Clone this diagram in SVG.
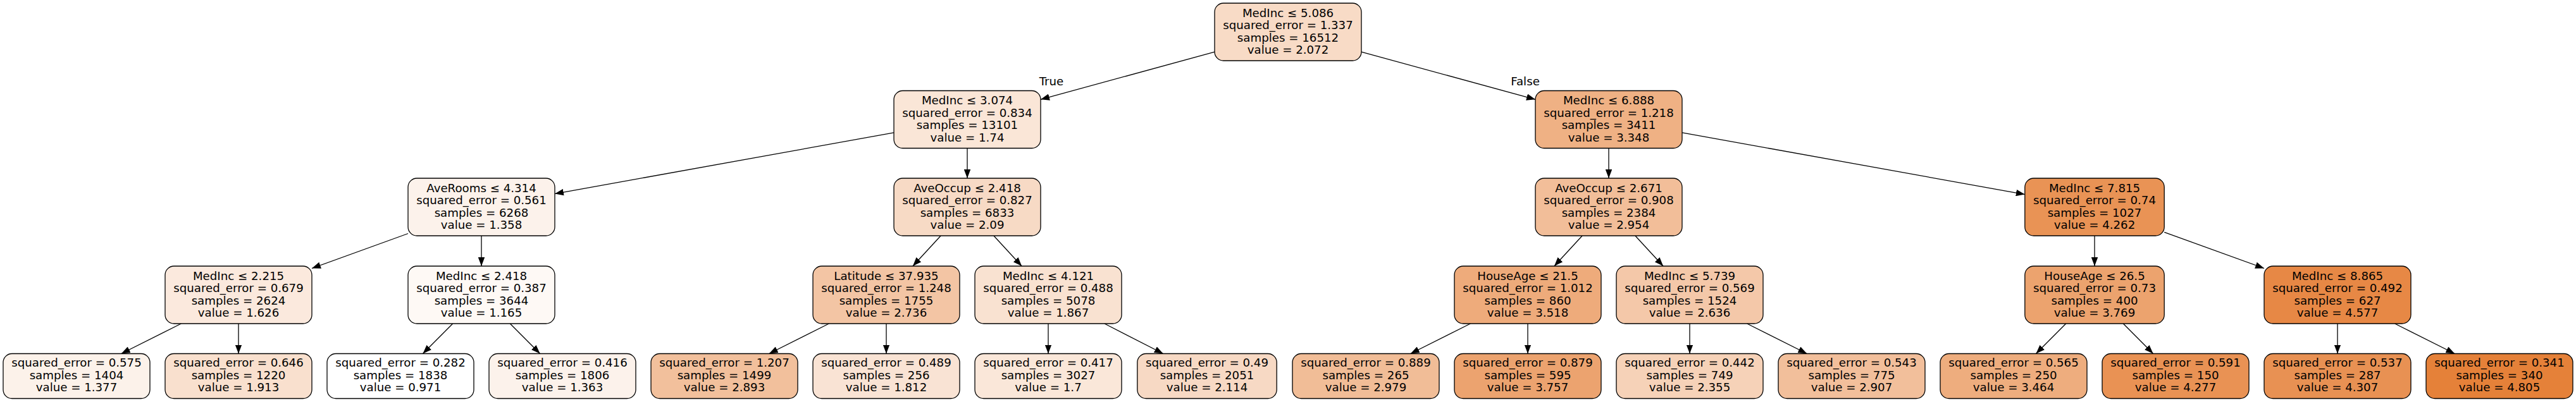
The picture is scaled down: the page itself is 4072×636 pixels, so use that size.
<svg xmlns="http://www.w3.org/2000/svg" width="4072" height="636" viewBox="0 0 4072 636">
<style>
.n rect{stroke:#000;stroke-width:1.3}
text{font-family:"DejaVu Sans","Liberation Sans",sans-serif;font-size:18.2px;fill:#000;text-anchor:middle}
.e line{stroke:#000;stroke-width:1.3;marker-end:url(#ah)}
</style>
<defs>
<marker id="ah" viewBox="0 0 14 10.6" refX="14" refY="5.3" markerWidth="14" markerHeight="10.6" markerUnits="userSpaceOnUse" orient="auto"><path d="M0,0 L14,5.3 L0,10.6 z" fill="#000"/></marker>
</defs>
<rect width="4072" height="636" fill="#fff"/>
<g id="edges" class="e">
<line x1="1920" y1="82.2" x2="1645" y2="157.3"/>
<line x1="2152" y1="82.2" x2="2427" y2="157.3"/>
<line x1="1413" y1="209.9" x2="877" y2="306.6"/>
<line x1="1529" y1="234.5" x2="1529" y2="282"/>
<line x1="2543" y1="234.5" x2="2543" y2="282"/>
<line x1="2659" y1="209.9" x2="3200.8" y2="307.6"/>
<line x1="645" y1="369.5" x2="493" y2="424.5"/>
<line x1="761" y1="373" x2="761" y2="421"/>
<line x1="1487.1" y1="373" x2="1442.9" y2="421"/>
<line x1="1570.9" y1="373" x2="1615.1" y2="421"/>
<line x1="2501.1" y1="373" x2="2456.9" y2="421"/>
<line x1="2584.9" y1="373" x2="2629.1" y2="421"/>
<line x1="3311" y1="373" x2="3311" y2="421"/>
<line x1="3421.2" y1="367.4" x2="3579" y2="424.5"/>
<line x1="286.4" y1="512" x2="191.7" y2="559.5"/>
<line x1="377" y1="512" x2="377" y2="559.5"/>
<line x1="715.7" y1="512" x2="668.4" y2="559.5"/>
<line x1="806.3" y1="512" x2="853.6" y2="559.5"/>
<line x1="1310.4" y1="512" x2="1215.7" y2="559.5"/>
<line x1="1401" y1="512" x2="1401" y2="559.5"/>
<line x1="1657" y1="512" x2="1657" y2="559.5"/>
<line x1="1745.9" y1="512" x2="1838.7" y2="559.5"/>
<line x1="2324.4" y1="512" x2="2229.7" y2="559.5"/>
<line x1="2415" y1="512" x2="2415" y2="559.5"/>
<line x1="2671" y1="512" x2="2671" y2="559.5"/>
<line x1="2761.6" y1="512" x2="2856.3" y2="559.5"/>
<line x1="3265.7" y1="512" x2="3218.4" y2="559.5"/>
<line x1="3356.3" y1="512" x2="3403.6" y2="559.5"/>
<line x1="3695" y1="512" x2="3695" y2="559.5"/>
<line x1="3785.6" y1="512" x2="3880.3" y2="559.5"/>
<text x="1662" y="135">True</text>
<text x="2411" y="135">False</text>
</g>
<g id="n0" class="n"><rect x="1920" y="5" width="232" height="91" rx="14" fill="#f8dbc6"/><text x="2036" y="26.5">MedInc ≤ 5.086</text><text x="2036" y="46.1">squared_error = 1.337</text><text x="2036" y="65.7">samples = 16512</text><text x="2036" y="85.3">value = 2.072</text></g>
<g id="n1" class="n"><rect x="1413" y="143.5" width="232" height="91" rx="14" fill="#fae6d7"/><text x="1529" y="165">MedInc ≤ 3.074</text><text x="1529" y="184.6">squared_error = 0.834</text><text x="1529" y="204.2">samples = 13101</text><text x="1529" y="223.8">value = 1.74</text></g>
<g id="n16" class="n"><rect x="2427" y="143.5" width="232" height="91" rx="14" fill="#efb184"/><text x="2543" y="165">MedInc ≤ 6.888</text><text x="2543" y="184.6">squared_error = 1.218</text><text x="2543" y="204.2">samples = 3411</text><text x="2543" y="223.8">value = 3.348</text></g>
<g id="n2" class="n"><rect x="645" y="282" width="232" height="91" rx="14" fill="#fcf2eb"/><text x="761" y="303.5">AveRooms ≤ 4.314</text><text x="761" y="323.1">squared_error = 0.561</text><text x="761" y="342.7">samples = 6268</text><text x="761" y="362.3">value = 1.358</text></g>
<g id="n9" class="n"><rect x="1413" y="282" width="232" height="91" rx="14" fill="#f7dac5"/><text x="1529" y="303.5">AveOccup ≤ 2.418</text><text x="1529" y="323.1">squared_error = 0.827</text><text x="1529" y="342.7">samples = 6833</text><text x="1529" y="362.3">value = 2.09</text></g>
<g id="n17" class="n"><rect x="2427" y="282" width="232" height="91" rx="14" fill="#f2be99"/><text x="2543" y="303.5">AveOccup ≤ 2.671</text><text x="2543" y="323.1">squared_error = 0.908</text><text x="2543" y="342.7">samples = 2384</text><text x="2543" y="362.3">value = 2.954</text></g>
<g id="n24" class="n"><rect x="3200.8" y="282" width="220.4" height="91" rx="14" fill="#e99355"/><text x="3311" y="303.5">MedInc ≤ 7.815</text><text x="3311" y="323.1">squared_error = 0.74</text><text x="3311" y="342.7">samples = 1027</text><text x="3311" y="362.3">value = 4.262</text></g>
<g id="n3" class="n"><rect x="261" y="421" width="232" height="91" rx="14" fill="#fbe9dd"/><text x="377" y="442.5">MedInc ≤ 2.215</text><text x="377" y="462.1">squared_error = 0.679</text><text x="377" y="481.7">samples = 2624</text><text x="377" y="501.3">value = 1.626</text></g>
<g id="n6" class="n"><rect x="645" y="421" width="232" height="91" rx="14" fill="#fef9f5"/><text x="761" y="442.5">MedInc ≤ 2.418</text><text x="761" y="462.1">squared_error = 0.387</text><text x="761" y="481.7">samples = 3644</text><text x="761" y="501.3">value = 1.165</text></g>
<g id="n10" class="n"><rect x="1285" y="421" width="232" height="91" rx="14" fill="#f3c5a4"/><text x="1401" y="442.5">Latitude ≤ 37.935</text><text x="1401" y="462.1">squared_error = 1.248</text><text x="1401" y="481.7">samples = 1755</text><text x="1401" y="501.3">value = 2.736</text></g>
<g id="n13" class="n"><rect x="1541" y="421" width="232" height="91" rx="14" fill="#f9e2d1"/><text x="1657" y="442.5">MedInc ≤ 4.121</text><text x="1657" y="462.1">squared_error = 0.488</text><text x="1657" y="481.7">samples = 5078</text><text x="1657" y="501.3">value = 1.867</text></g>
<g id="n18" class="n"><rect x="2299" y="421" width="232" height="91" rx="14" fill="#eeab7b"/><text x="2415" y="442.5">HouseAge ≤ 21.5</text><text x="2415" y="462.1">squared_error = 1.012</text><text x="2415" y="481.7">samples = 860</text><text x="2415" y="501.3">value = 3.518</text></g>
<g id="n21" class="n"><rect x="2555" y="421" width="232" height="91" rx="14" fill="#f4c8a9"/><text x="2671" y="442.5">MedInc ≤ 5.739</text><text x="2671" y="462.1">squared_error = 0.569</text><text x="2671" y="481.7">samples = 1524</text><text x="2671" y="501.3">value = 2.636</text></g>
<g id="n25" class="n"><rect x="3200.8" y="421" width="220.4" height="91" rx="14" fill="#eca36e"/><text x="3311" y="442.5">HouseAge ≤ 26.5</text><text x="3311" y="462.1">squared_error = 0.73</text><text x="3311" y="481.7">samples = 400</text><text x="3311" y="501.3">value = 3.769</text></g>
<g id="n28" class="n"><rect x="3579" y="421" width="232" height="91" rx="14" fill="#e78845"/><text x="3695" y="442.5">MedInc ≤ 8.865</text><text x="3695" y="462.1">squared_error = 0.492</text><text x="3695" y="481.7">samples = 627</text><text x="3695" y="501.3">value = 4.577</text></g>
<g id="n4" class="n"><rect x="5" y="559.5" width="232" height="71" rx="14" fill="#fcf2ea"/><text x="121" y="580">squared_error = 0.575</text><text x="121" y="599.6">samples = 1404</text><text x="121" y="619.2">value = 1.377</text></g>
<g id="n5" class="n"><rect x="261" y="559.5" width="232" height="71" rx="14" fill="#f9e0ce"/><text x="377" y="580">squared_error = 0.646</text><text x="377" y="599.6">samples = 1220</text><text x="377" y="619.2">value = 1.913</text></g>
<g id="n7" class="n"><rect x="517" y="559.5" width="232" height="71" rx="14" fill="#ffffff"/><text x="633" y="580">squared_error = 0.282</text><text x="633" y="599.6">samples = 1838</text><text x="633" y="619.2">value = 0.971</text></g>
<g id="n8" class="n"><rect x="773" y="559.5" width="232" height="71" rx="14" fill="#fcf2eb"/><text x="889" y="580">squared_error = 0.416</text><text x="889" y="599.6">samples = 1806</text><text x="889" y="619.2">value = 1.363</text></g>
<g id="n11" class="n"><rect x="1029" y="559.5" width="232" height="71" rx="14" fill="#f2c09c"/><text x="1145" y="580">squared_error = 1.207</text><text x="1145" y="599.6">samples = 1499</text><text x="1145" y="619.2">value = 2.893</text></g>
<g id="n12" class="n"><rect x="1285" y="559.5" width="232" height="71" rx="14" fill="#f9e3d4"/><text x="1401" y="580">squared_error = 0.489</text><text x="1401" y="599.6">samples = 256</text><text x="1401" y="619.2">value = 1.812</text></g>
<g id="n14" class="n"><rect x="1541" y="559.5" width="232" height="71" rx="14" fill="#fae7d9"/><text x="1657" y="580">squared_error = 0.417</text><text x="1657" y="599.6">samples = 3027</text><text x="1657" y="619.2">value = 1.7</text></g>
<g id="n15" class="n"><rect x="1797.8" y="559.5" width="220.4" height="71" rx="14" fill="#f7d9c4"/><text x="1908" y="580">squared_error = 0.49</text><text x="1908" y="599.6">samples = 2051</text><text x="1908" y="619.2">value = 2.114</text></g>
<g id="n19" class="n"><rect x="2043" y="559.5" width="232" height="71" rx="14" fill="#f1bd97"/><text x="2159" y="580">squared_error = 0.889</text><text x="2159" y="599.6">samples = 265</text><text x="2159" y="619.2">value = 2.979</text></g>
<g id="n20" class="n"><rect x="2299" y="559.5" width="232" height="71" rx="14" fill="#eca36f"/><text x="2415" y="580">squared_error = 0.879</text><text x="2415" y="599.6">samples = 595</text><text x="2415" y="619.2">value = 3.757</text></g>
<g id="n22" class="n"><rect x="2555" y="559.5" width="232" height="71" rx="14" fill="#f6d2b8"/><text x="2671" y="580">squared_error = 0.442</text><text x="2671" y="599.6">samples = 749</text><text x="2671" y="619.2">value = 2.355</text></g>
<g id="n23" class="n"><rect x="2811" y="559.5" width="232" height="71" rx="14" fill="#f2bf9b"/><text x="2927" y="580">squared_error = 0.543</text><text x="2927" y="599.6">samples = 775</text><text x="2927" y="619.2">value = 2.907</text></g>
<g id="n26" class="n"><rect x="3067" y="559.5" width="232" height="71" rx="14" fill="#eead7e"/><text x="3183" y="580">squared_error = 0.565</text><text x="3183" y="599.6">samples = 250</text><text x="3183" y="619.2">value = 3.464</text></g>
<g id="n27" class="n"><rect x="3323" y="559.5" width="232" height="71" rx="14" fill="#e99254"/><text x="3439" y="580">squared_error = 0.591</text><text x="3439" y="599.6">samples = 150</text><text x="3439" y="619.2">value = 4.277</text></g>
<g id="n29" class="n"><rect x="3579" y="559.5" width="232" height="71" rx="14" fill="#e89153"/><text x="3695" y="580">squared_error = 0.537</text><text x="3695" y="599.6">samples = 287</text><text x="3695" y="619.2">value = 4.307</text></g>
<g id="n30" class="n"><rect x="3835" y="559.5" width="232" height="71" rx="14" fill="#e58139"/><text x="3951" y="580">squared_error = 0.341</text><text x="3951" y="599.6">samples = 340</text><text x="3951" y="619.2">value = 4.805</text></g>
</svg>
